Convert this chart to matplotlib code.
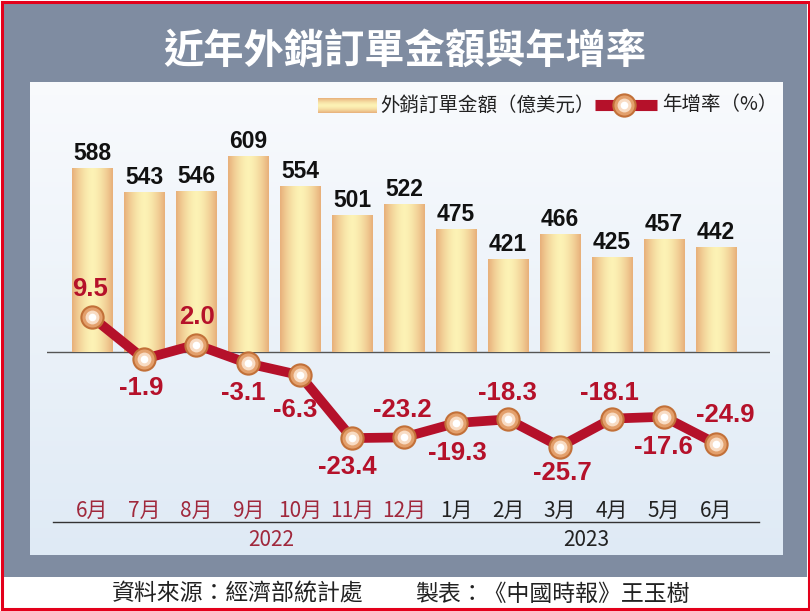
import numpy as np
import matplotlib.pyplot as plt
from matplotlib.patches import Rectangle

plt.rcParams['font.family'] = ['Noto Sans CJK TC', 'DejaVu Sans']

# données
months = ['6月', '7月', '8月', '9月', '10月', '11月', '12月',
          '1月', '2月', '3月', '4月', '5月', '6月']
years = ['2022', '2023']
n_2022 = 7
orders = [588, 543, 546, 609, 554, 501, 522, 475, 421, 466, 425, 457, 442]
growth = [9.5, -1.9, 2.0, -3.1, -6.3, -23.4, -23.2,
          -19.3, -18.3, -25.7, -18.1, -17.6, -24.9]

# position des étiquettes du taux (pixels)
g_off = [(-2, 28), (-3, -29), (1, 28), (-5, -30), (-5, -35), (-5, -29), (-2, 27),
         (1, -30), (-1, 26), (2, -26), (-2, 26), (-1, -30), (9, 29)]

RED = '#b5112a'
MAROON = '#a0283c'
GRAY = '#7f8ca1'
base = 250

fig = plt.figure(figsize=(8.1, 6.11), dpi=100)

# fond
bg = fig.add_axes([0, 0, 1, 1])
bg.axis('off')
bg.add_patch(Rectangle((0, 0), 810, 611, fc='white', ec='none', zorder=0.5))
bg.add_patch(Rectangle((3, 3), 804, 574, fc=GRAY, ec='none', zorder=0.6))
top_c = np.array([0.975, 0.982, 0.992])
bot_c = np.array([0.875, 0.918, 0.962])
t = np.linspace(0, 1, 256)[:, None]
panel = (top_c * (1 - t) + bot_c * t)[:, None, :]
bg.imshow(panel, extent=(30, 783, 555, 82), aspect='auto', zorder=1)
bg.add_patch(Rectangle((1.5, 1.5), 807, 607.5, fc='none', ec='#e3001b', lw=2.2, zorder=3))

fig.text(405 / 810, 1 - 52 / 611, '近年外銷訂單金額與年增率', ha='center', va='center',
         fontsize=29, fontweight='bold', color='white')

# dégradé des barres
edge = np.array([0.91, 0.69, 0.48])
center = np.array([0.99, 0.95, 0.71])
u = np.abs(np.linspace(-1, 1, 64)) ** 1.6
grad_h = (center * (1 - u[:, None]) + edge * u[:, None])[None, :, :]
grad_v = (center * (1 - u[:, None]) + edge * u[:, None])[:, None, :]

# légende
bg.imshow(grad_v, extent=(318, 377, 113, 98), aspect='auto', zorder=2)
bg.text(380, 105, '外銷訂單金額（億美元）', ha='left', va='center', fontsize=14, color='#222')
bg.plot([595, 657], [105, 105], color=RED, lw=8, solid_capstyle='butt', zorder=2)
bg.plot([624], [105], 'o', ms=16, mfc='#e3a06c', mec='#c27038', mew=1.5, zorder=2.1)
bg.plot([624], [105], 'o', ms=10, mfc='#f8dcc4', mec='none', zorder=2.2)
bg.plot([624], [105], 'o', ms=5.5, mfc='white', mec='none', zorder=2.3)
bg.text(662, 105, '年增率（%）', ha='left', va='center', fontsize=14, color='#222')

bg.add_patch(Rectangle((3, 577), 804, 31, fc='white', ec='none', zorder=1))
bg.text(112, 594, '資料來源：經濟部統計處', ha='left', va='center', fontsize=16.5, color='#222')
bg.text(415, 594, '製表：《中國時報》王玉樹', ha='left', va='center', fontsize=16.5, color='#222')
bg.set_xlim(0, 810)
bg.set_ylim(611, 0)

# barres
ax = fig.add_axes([47 / 810, (611 - 480) / 611, (770 - 47) / 810, 380 / 611])
ax.patch.set_alpha(0)
for s in ax.spines.values():
    s.set_visible(False)
x = np.arange(len(orders))
bars = ax.bar(x, np.array(orders) - base, bottom=base, width=0.77, color='#f3d59e', zorder=2)
for b in bars:
    im = ax.imshow(grad_h, extent=(b.get_x(), b.get_x() + b.get_width(), base,
                                   b.get_y() + b.get_height()),
                   aspect='auto', zorder=2.1)
    im.set_clip_path(b)
for xi, v in zip(x, orders):
    ax.annotate(str(v), (xi, v), xytext=(0, 3), textcoords='offset pixels',
                ha='center', va='bottom', fontsize=16.5, fontweight='bold',
                family='Liberation Sans', color='#111')
ax.axhline(base, color='#555', lw=1, zorder=1.5)
ax.set_xlim(-0.865, 13.04)
ax.set_ylim(base - 128 / 0.545, base + 252 / 0.545)
ax.set_yticks([])
ax.set_xticks(x, months)
ax.tick_params(axis='x', length=0, pad=14, labelsize=15)
for i, lbl in enumerate(ax.get_xticklabels()):
    lbl.set_color(MAROON if i < n_2022 else '#222')
ax.plot([-0.75, 12.83], [-0.11, -0.11], transform=ax.get_xaxis_transform(),
        color='#333', lw=1, clip_on=False)
ax.text(3.45, -0.158, years[0], transform=ax.get_xaxis_transform(),
        ha='center', va='center', fontsize=15, color=MAROON)
ax.text(9.5, -0.158, years[1], transform=ax.get_xaxis_transform(),
        ha='center', va='center', fontsize=15, color='#222')

# taux de croissance
ax2 = ax.twinx()
ax2.axis('off')
ax2.set_ylim(-128 / 3.68, 252 / 3.68)
ax2.plot(x, growth, color=RED, lw=7, zorder=3)
ax2.plot(x, growth, 'o', ms=16, mfc='#e3a06c', mec='#c27038', mew=1.5, zorder=4)
ax2.plot(x, growth, 'o', ms=10, mfc='#f8dcc4', mec='none', zorder=5)
ax2.plot(x, growth, 'o', ms=5.5, mfc='white', mec='none', zorder=6)
for xi, g, off in zip(x, growth, g_off):
    ax2.annotate(f'{g:.1f}', (xi, g), xytext=off, textcoords='offset pixels',
                 ha='center', va='center', fontsize=18.5, fontweight='bold',
                 family='Liberation Sans', color=RED)

fig.savefig('out.png', dpi=100)
